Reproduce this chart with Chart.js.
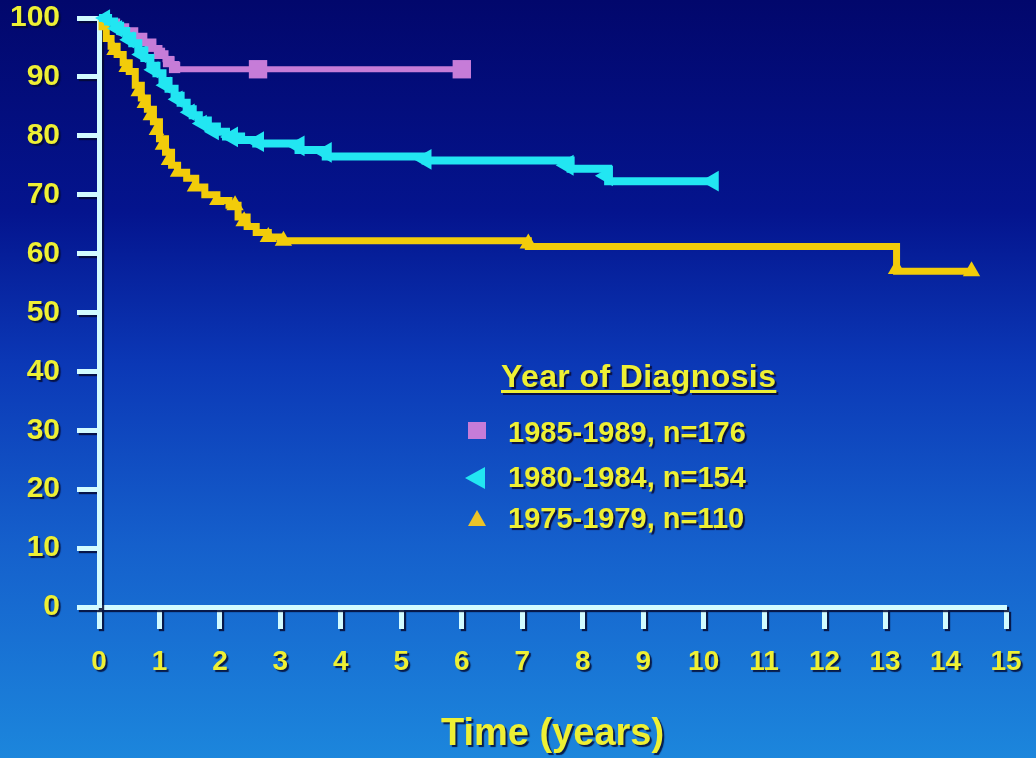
<!DOCTYPE html>
<html>
<head>
<meta charset="utf-8">
<script src="https://cdn.jsdelivr.net/npm/chart.js@4.4.1/dist/chart.umd.min.js"></script>
<style>
  html, body { margin: 0; padding: 0; }
  body {
    width: 1036px; height: 758px; overflow: hidden; position: relative;
    background: linear-gradient(to bottom, #02076c 0%, #04148e 28%, #0b38b6 48%, #1560cc 72%, #1c86dc 100%);
    font-family: "Liberation Sans", Arial, sans-serif;
  }
  #chart { position: absolute; left: 0; top: 0; }
  .lg { position: absolute; color: #eef034; font-weight: bold; white-space: nowrap;
        text-shadow: 2px 2px 1px #0a1040; font-size: 29px; line-height: 29px; }
  .lg-title { font-size: 32px; line-height: 32px; letter-spacing: 0.4px;
        text-decoration: underline; text-decoration-thickness: 3px; text-underline-offset: 3px; }
  .mk { position: absolute; width: 0; height: 0; }
</style>
</head>
<body>
<canvas id="chart" width="1036" height="758"></canvas>

<div class="lg lg-title" style="left:501px; top:360px;">Year of Diagnosis</div>
<div class="mk" style="left:468px; top:422px; width:18px; height:17px; background:#c67cd8;"></div>
<div class="lg" id="name0" style="left:508px; top:418px;"></div>
<div class="mk" style="left:465px; top:467px; border-right:20px solid #22e6f2; border-top:11px solid transparent; border-bottom:11px solid transparent;"></div>
<div class="lg" id="name1" style="left:508px; top:463px;"></div>
<div class="mk" style="left:468px; top:510px; border-bottom:16px solid #ecc428; border-left:9px solid transparent; border-right:9px solid transparent;"></div>
<div class="lg" id="name2" style="left:508px; top:504px;"></div>

<script>
// SERIES NAMES
const seriesNames = ["1985-1989, n=176", "1980-1984, n=154", "1975-1979, n=110"];

// 1985-1989 (purple squares)
const purpleTimes = [0, 0.15, 0.3, 0.45, 0.6, 0.75, 0.9, 1.0, 1.1, 1.2, 1.28, 6.0];
const purpleSurv  = [100, 99.4, 98.6, 97.9, 97.0, 96.0, 94.9, 94.0, 93.0, 92.2, 91.3, 91.3];
const purpleCensT = [0.4, 0.55, 0.7, 0.85, 1.0, 1.15, 1.25, 2.63, 6.0];
const purpleCensS = [98.0, 97.2, 96.2, 95.2, 94.0, 92.6, 91.6, 91.3, 91.3];

// 1980-1984 (cyan left triangles)
const cyanTimes = [0, 0.15, 0.25, 0.35, 0.45, 0.55, 0.65, 0.75, 0.85, 0.95, 1.05, 1.15, 1.25, 1.35,
                   1.45, 1.55, 1.65, 1.8, 1.95, 2.1, 2.35, 2.6, 3.3, 3.75, 5.4, 7.8, 8.42, 10.17];
const cyanSurv  = [100, 99.4, 98.7, 97.8, 96.9, 95.7, 94.5, 93.2, 91.9, 90.6, 89.3, 88.0, 86.8, 85.6,
                   84.5, 83.5, 82.6, 81.6, 80.7, 79.9, 79.3, 78.7, 77.6, 76.5, 75.8, 74.4, 72.3, 72.3];
const cyanCensT = [0.1, 0.3, 0.5, 0.7, 0.9, 1.1, 1.3, 1.5, 1.7, 1.9, 2.2, 2.63, 3.3, 3.75, 5.4, 7.75, 8.4, 10.15];
const cyanCensS = [100, 98.2, 96.3, 93.8, 91.2, 88.6, 86.2, 84.0, 82.1, 80.7, 79.8, 79.0, 78.3, 77.2, 76.0, 75.0, 73.2, 72.3];

// 1975-1979 (yellow triangles)
const yellowTimes = [0, 0.05, 0.12, 0.2, 0.3, 0.4, 0.5, 0.6, 0.7, 0.8, 0.9, 1.0, 1.1, 1.2, 1.3,
                     1.45, 1.6, 1.75, 1.95, 2.15, 2.3, 2.45, 2.6, 2.8, 3.0, 7.1, 13.19, 14.43];
const yellowSurv  = [100, 98.5, 96.5, 95.2, 93.8, 92.4, 90.9, 88.6, 86.4, 84.5, 82.4, 79.5, 77.2, 75.0, 73.8,
                     72.8, 71.3, 70.0, 69.0, 68.2, 66.2, 64.6, 63.6, 62.8, 62.2, 61.2, 57.0, 57.0];
const yellowCensT = [0.25, 0.45, 0.65, 0.75, 0.85, 0.95, 1.05, 1.15, 1.3, 1.58, 1.95, 2.25, 2.4, 2.8, 3.05, 7.1, 13.19, 14.43];
const yellowCensS = [94.5, 91.6, 87.5, 85.5, 83.4, 80.9, 78.4, 75.8, 73.8, 71.3, 69.0, 68.2, 65.5, 62.8, 62.2, 61.7, 57.4, 57.0];

// COLOURS
const textYellow = "#eef034";
const axisColor = "#d2fbff";
const purple = "#c67cd8";
const cyan = "#22e6f2";
const yellow = "#f2cc0a";

seriesNames.forEach((n, i) => { document.getElementById("name" + i).textContent = n; });

const pts = (t, s) => t.map((x, i) => ({ x, y: s[i] }));

function curve(label, t, s, color, width, order) {
  return { label, data: pts(t, s), borderColor: color, borderWidth: width, stepped: true,
           pointRadius: 0, fill: false, clip: false, order };
}
function marks(label, t, s, color, style, rot, small, big, order) {
  return { label, data: pts(t, s), showLine: false, pointStyle: style, pointRotation: rot,
           pointRadius: c => (c.raw && c.raw.x > 2 ? big : small),
           backgroundColor: color, borderColor: color, pointBorderWidth: 0, clip: false, order };
}

// draw tick labels and axis title with a dark drop shadow like the slide
const shadowPlugin = {
  id: "textShadow",
  beforeDraw(chart) {
    const c = chart.ctx;
    c.save();
    c.shadowColor = "rgba(5,10,50,0.85)";
    c.shadowOffsetX = 2;
    c.shadowOffsetY = 2;
    c.shadowBlur = 1;
  },
  beforeDatasetsDraw(chart) { chart.ctx.restore(); }
};

const font = "'Liberation Sans', Arial, sans-serif";

new Chart(document.getElementById("chart"), {
  type: "line",
  data: {
    datasets: [
      curve(seriesNames[2], yellowTimes, yellowSurv, yellow, 7, 5),
      marks(seriesNames[2], yellowCensT, yellowCensS, yellow, "triangle", 0, 9, 10, 4),
      curve(seriesNames[0], purpleTimes, purpleSurv, purple, 6, 3),
      marks(seriesNames[0], purpleCensT, purpleCensS, purple, "rect", 0, 8, 13, 2),
      curve(seriesNames[1], cyanTimes, cyanSurv, cyan, 8, 1),
      marks(seriesNames[1], cyanCensT, cyanCensS, cyan, "triangle", 270, 10, 12, 0)
    ]
  },
  options: {
    responsive: false,
    animation: false,
    layout: { padding: { left: 0, right: 30, top: 18, bottom: 0 } },
    plugins: { legend: { display: false }, tooltip: { enabled: false } },
    scales: {
      x: {
        type: "linear", min: 0, max: 15,
        ticks: { stepSize: 1, autoSkip: false, maxRotation: 0, color: textYellow, padding: 16,
                 font: { family: font, size: 28, weight: "bold" } },
        grid: { drawOnChartArea: false, drawTicks: true, tickLength: 22, tickWidth: 5,
                tickColor: axisColor, color: axisColor },
        border: { display: true, color: axisColor, width: 5 },
        title: { display: true, text: "Time (years)", color: textYellow,
                 font: { family: font, size: 38, weight: "bold", lineHeight: 1 },
                 padding: { top: 0, bottom: 4 } },
        afterFit: s => { s.height = 151; s.paddingLeft = 0; s.paddingRight = 0; }
      },
      y: {
        min: 0, max: 100,
        ticks: { stepSize: 10, color: textYellow, padding: 17,
                 font: { family: font, size: 30, weight: "bold" } },
        grid: { drawOnChartArea: false, drawTicks: true, tickLength: 22, tickWidth: 5,
                tickColor: axisColor, color: axisColor },
        border: { display: true, color: axisColor, width: 5 },
        afterFit: s => { s.width = 99; s.paddingTop = 0; s.paddingBottom = 0; }
      }
    }
  },
  plugins: [shadowPlugin]
});
</script>
</body>
</html>
